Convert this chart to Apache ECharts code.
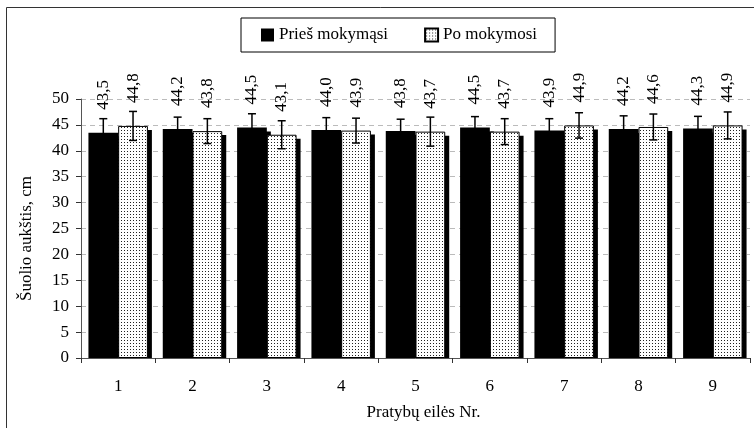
<!DOCTYPE html>
<html>
<head>
<meta charset="utf-8">
<script src="https://cdn.jsdelivr.net/npm/echarts@6/dist/echarts.min.js"></script>
<style>
html,body{margin:0;padding:0;background:#fff;}
#chart{width:754px;height:428px;}
</style>
</head>
<body>
<div id="chart"></div>
<script>
const categories = ['1','2','3','4','5','6','7','8','9'];
const seriesNames = ['Prieš mokymąsi', 'Po mokymosi'];
const beforeValues = [43.5, 44.2, 44.5, 44.0, 43.8, 44.5, 43.9, 44.2, 44.3];
const afterValues  = [44.8, 43.8, 43.1, 43.9, 43.7, 43.7, 44.9, 44.6, 44.9];
const beforeErrors = [2.7, 2.3, 2.65, 2.4, 2.3, 2.1, 2.3, 2.55, 2.35];
const afterErrors  = [2.8, 2.4, 2.7, 2.4, 2.8, 2.5, 2.45, 2.5, 2.6];
const yTicks = { min: 0, max: 50, interval: 5 };

const FONT = '"Liberation Serif", "Times New Roman", serif';

// dotted fill pattern
const pat = document.createElement('canvas');
pat.width = 3; pat.height = 3;
const pctx = pat.getContext('2d');
pctx.fillStyle = '#fff'; pctx.fillRect(0,0,3,3);
pctx.fillStyle = '#222'; pctx.fillRect(1,1,1,1);

const BAR_RATIO = 0.4;
const SH = 4;

function fmt(v){ return v.toFixed(1).replace('.', ','); }

const shadowData = [];
const errData = [];
categories.forEach((c, i) => {
  shadowData.push([i, beforeValues[i], 0]);
  shadowData.push([i, afterValues[i], 1]);
  errData.push([i, beforeValues[i], beforeErrors[i], 0]);
  errData.push([i, afterValues[i], afterErrors[i], 1]);
});

function barLeft(api, ci, s){
  const band = api.size([1, 0])[0];
  const bw = band * BAR_RATIO;
  const c = api.coord([ci, 0])[0];
  return { x: s === 0 ? c - bw : c, bw: bw };
}

const chart = echarts.init(document.getElementById('chart'), null, {renderer: 'canvas'});
chart.setOption({
  animation: false,
  backgroundColor: '#fff',
  textStyle: { fontFamily: FONT },
  graphic: [{
    type: 'polyline',
    shape: { points: [[6.5, 430], [6.5, 7.5], [760, 7.5]] },
    style: { stroke: '#333', lineWidth: 1, fill: null },
    silent: true
  }],
  legend: {
    left: 241, top: 18,
    padding: [8, 18, 8, 20],
    itemWidth: 13, itemHeight: 13, itemGap: 36,
    borderColor: '#000', borderWidth: 1,
    icon: 'rect',
    data: seriesNames,
    textStyle: { fontFamily: FONT, fontSize: 17, color: '#000', lineHeight: 18 }
  },
  grid: { left: 81, right: 4, top: 99, bottom: 70, containLabel: false },
  xAxis: {
    type: 'category',
    data: categories,
    name: 'Pratybų eilės Nr.',
    nameLocation: 'middle',
    nameGap: 46,
    nameTextStyle: { fontFamily: FONT, fontSize: 17, color: '#000', padding: [0, 0, 0, 16] },
    axisLine: { lineStyle: { color: '#555', width: 1 } },
    axisTick: { show: true, length: 5, alignWithLabel: false, lineStyle: { color: '#333' } },
    axisLabel: { fontFamily: FONT, fontSize: 17, color: '#000', margin: 20 },
    splitLine: { show: false },
    z: 5
  },
  yAxis: {
    type: 'value',
    min: yTicks.min, max: yTicks.max, interval: yTicks.interval,
    name: 'Šuolio aukštis, cm',
    nameLocation: 'middle',
    nameGap: 46,
    nameRotate: 90,
    nameTextStyle: { fontFamily: FONT, fontSize: 17, color: '#000', padding: [0, 20, 0, 0] },
    axisLine: { show: true, lineStyle: { color: '#555', width: 1 } },
    axisTick: { show: true, length: 5, lineStyle: { color: '#333' } },
    axisLabel: { fontFamily: FONT, fontSize: 17, color: '#000', margin: 12 },
    splitLine: { show: true, lineStyle: { color: '#bbb', type: [5, 4], width: 1 } }
  },
  series: [
    {
      type: 'custom',
      name: 'shadow',
      z: 1,
      silent: true,
      renderItem: function(params, api){
        const ci = api.value(0), v = api.value(1), s = api.value(2);
        const b = barLeft(api, ci, s);
        const yTop = api.coord([ci, v])[1] + SH;
        const y0 = api.coord([ci, 0])[1];
        return { type: 'rect', shape: { x: b.x + SH, y: yTop, width: b.bw, height: y0 - yTop },
                 style: { fill: '#000' } };
      },
      data: shadowData,
      encode: { x: 0, y: 1 }
    },
    {
      type: 'bar',
      name: seriesNames[0],
      data: beforeValues,
      barWidth: (BAR_RATIO * 100) + '%',
      barGap: '0%',
      z: 2,
      itemStyle: { color: '#000', borderColor: '#000', borderWidth: 0 },
      label: {
        show: true, position: 'top', rotate: 90, distance: 23,
        align: 'left', verticalAlign: 'middle',
        fontFamily: FONT, fontSize: 17, color: '#000',
        formatter: p => fmt(p.value)
      }
    },
    {
      type: 'bar',
      name: seriesNames[1],
      data: afterValues,
      barWidth: (BAR_RATIO * 100) + '%',
      barGap: '0%',
      z: 2,
      itemStyle: { color: { image: pat, repeat: 'repeat' }, borderColor: '#000', borderWidth: 1 },
      label: {
        show: true, position: 'top', rotate: 90, distance: 23,
        align: 'left', verticalAlign: 'middle',
        fontFamily: FONT, fontSize: 17, color: '#000',
        formatter: p => fmt(p.value)
      }
    },
    {
      type: 'custom',
      name: 'errors',
      z: 3,
      silent: true,
      renderItem: function(params, api){
        const ci = api.value(0), v = api.value(1), e = api.value(2), s = api.value(3);
        const b = barLeft(api, ci, s);
        const x = b.x + b.bw / 2;
        const yT = api.coord([ci, v + e])[1];
        const yB = api.coord([ci, v - e])[1];
        const cap = 4;
        const st = { stroke: '#000', lineWidth: 1.5 };
        return { type: 'group', children: [
          { type: 'line', shape: { x1: x, y1: yT, x2: x, y2: yB }, style: st },
          { type: 'line', shape: { x1: x - cap, y1: yT, x2: x + cap, y2: yT }, style: st },
          { type: 'line', shape: { x1: x - cap, y1: yB, x2: x + cap, y2: yB }, style: st }
        ]};
      },
      data: errData,
      encode: { x: 0, y: 1 }
    }
  ]
});
</script>
</body>
</html>
